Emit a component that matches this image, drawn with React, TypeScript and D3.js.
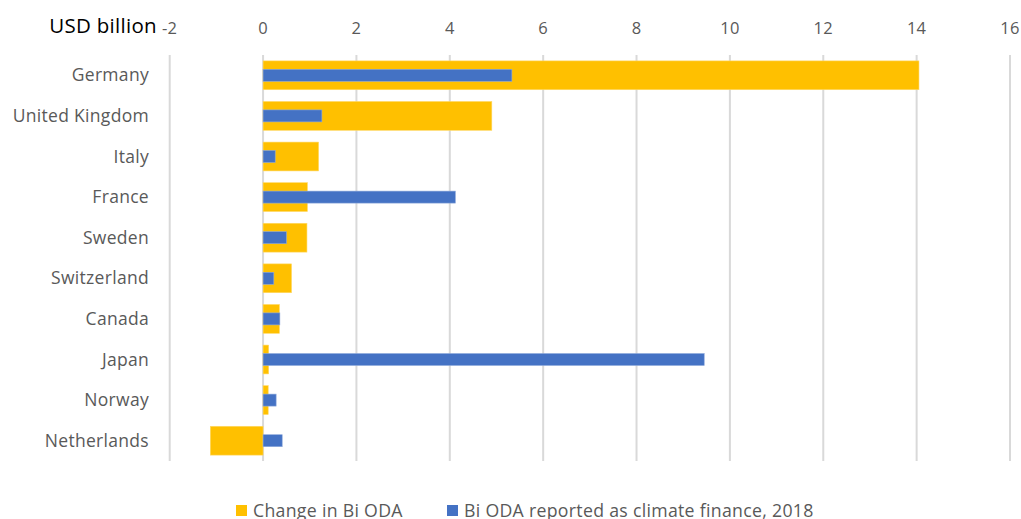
import { useEffect, useRef } from 'react'
import * as d3 from 'd3'

const COUNTRIES = ['Germany', 'United Kingdom', 'Italy', 'France', 'Sweden', 'Switzerland', 'Canada', 'Japan', 'Norway', 'Netherlands']
const CHANGE_BI_ODA = [14.05, 4.9, 1.19, 0.95, 0.94, 0.61, 0.35, 0.12, 0.11, -1.13]
const CLIMATE_FINANCE = [5.33, 1.26, 0.26, 4.12, 0.5, 0.23, 0.36, 9.45, 0.28, 0.41]
const X_TICKS = [-2, 0, 2, 4, 6, 8, 10, 12, 14, 16]

const YELLOW = '#FFC000'
const BLUE = '#4472C4'
const FONT = '"Open Sans", Lato, sans-serif'

export default function App() {
  const svgRef = useRef<SVGSVGElement>(null)

  useEffect(() => {
    if (!svgRef.current) return
    const W = 1021
    const H = 519
    const svg = d3.select(svgRef.current).attr('viewBox', `0 0 ${W} ${H}`)
    svg.selectAll('*').remove()

    const x = d3.scaleLinear().domain([-2, 16]).range([169.7, 1010])
    const y = d3.scaleBand().domain(COUNTRIES).range([55, 461]).paddingInner(0.29).paddingOuter(0.145)

    // gridlines
    X_TICKS.forEach((t) => {
      svg.append('line').attr('x1', x(t)).attr('x2', x(t)).attr('y1', 55).attr('y2', 461)
        .attr('stroke', '#d9d9d9').attr('stroke-width', 2)
    })

    // tick labels on top
    X_TICKS.forEach((t) => {
      svg.append('text').attr('x', x(t)).attr('y', 34).attr('text-anchor', 'middle')
        .attr('fill', '#595959').attr('font-size', 16.5).attr('letter-spacing', 0.3).attr('font-family', FONT)
        .text(t < 0 ? `-${Math.abs(t)}` : `${t}`)
    })

    svg.append('text').attr('x', 157).attr('y', 33).attr('text-anchor', 'end')
      .attr('fill', '#000').attr('font-size', 20.5).attr('letter-spacing', 0.3).attr('font-family', FONT)
      .text('USD billion')

    // category labels
    COUNTRIES.forEach((c) => {
      svg.append('text').attr('x', 149).attr('y', (y(c) ?? 0) + y.bandwidth() / 2 + 6)
        .attr('text-anchor', 'end').attr('fill', '#595959').attr('font-size', 17.5)
        .attr('letter-spacing', 0.3).attr('font-family', FONT)
        .text(c)
    })

    // yellow bars
    const blueH = 12
    COUNTRIES.forEach((c, i) => {
      const v = CHANGE_BI_ODA[i]
      svg.append('rect').attr('x', x(Math.min(0, v))).attr('y', y(c) ?? 0)
        .attr('width', Math.abs(x(v) - x(0))).attr('height', y.bandwidth())
        .attr('fill', YELLOW).attr('stroke', '#ffd966').attr('stroke-width', 0.6)
    })
    COUNTRIES.forEach((c, i) => {
      const v = CLIMATE_FINANCE[i]
      svg.append('rect').attr('x', x(Math.min(0, v)))
        .attr('y', (y(c) ?? 0) + y.bandwidth() / 2 - blueH / 2)
        .attr('width', Math.abs(x(v) - x(0))).attr('height', blueH)
        .attr('fill', BLUE).attr('stroke', '#8faadc').attr('stroke-width', 0.6)
    })

    // legend
    const legend = [
      { label: 'Change in Bi ODA', color: YELLOW, x: 236 },
      { label: 'Bi ODA reported as climate finance, 2018', color: BLUE, x: 447 },
    ]
    legend.forEach((l) => {
      svg.append('rect').attr('x', l.x).attr('y', 505).attr('width', 11).attr('height', 11).attr('fill', l.color)
      svg.append('text').attr('x', l.x + 17).attr('y', 517).attr('fill', '#595959')
        .attr('font-size', 17.7).attr('letter-spacing', 0.3).attr('font-family', FONT).text(l.label)
    })
  }, [])

  return (
    <svg ref={svgRef} width={1021} height={519}
      style={{ position: 'absolute', left: 0, top: 0, background: '#fff' }} />
  )
}
